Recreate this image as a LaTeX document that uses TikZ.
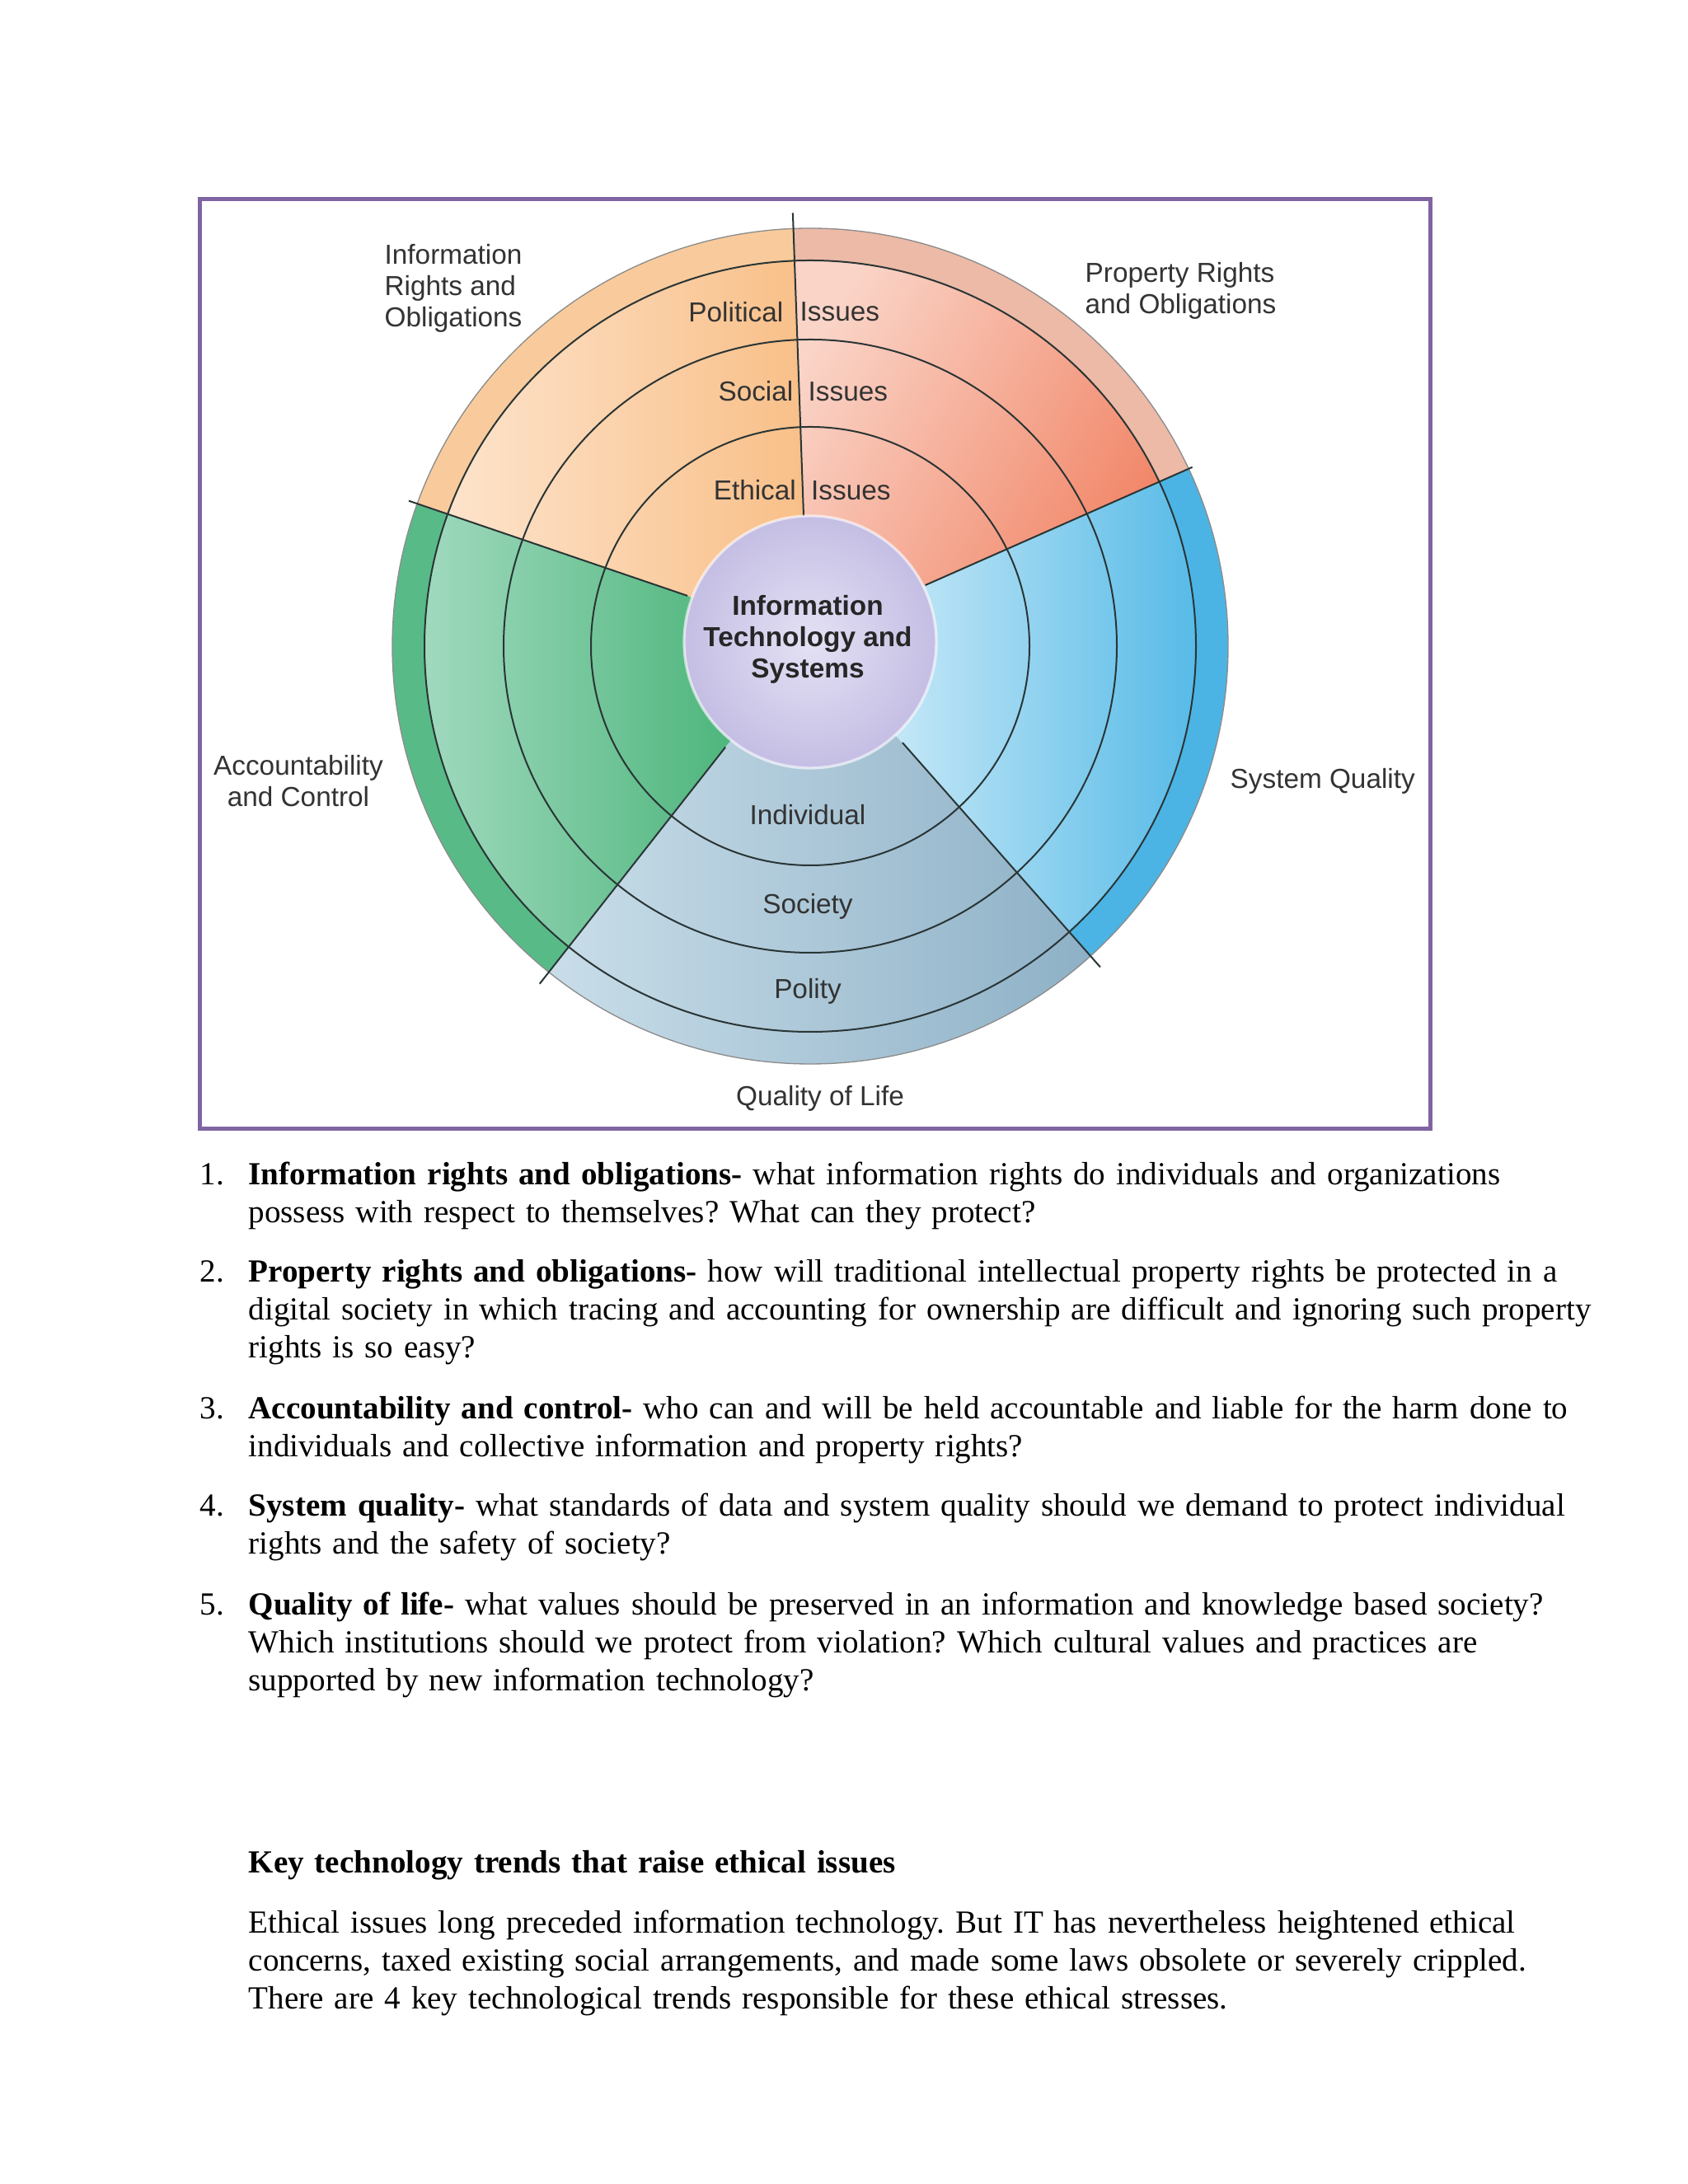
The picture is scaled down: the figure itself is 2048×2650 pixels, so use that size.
\documentclass[tikz,border=0pt]{standalone}
\usepackage{fontspec}
\setmainfont{Liberation Serif}
\newfontfamily\diagfont{Liberation Sans}
\usetikzlibrary{positioning}
\frenchspacing

\definecolor{framepurple}{HTML}{8064A2}
\definecolor{ringcol}{HTML}{2A3535}
\definecolor{labelgray}{HTML}{333333}
\definecolor{orangelt}{HTML}{FEE7D2}
\definecolor{orangedk}{HTML}{F8BD84}
\definecolor{orangeband}{HTML}{F9CB9C}
\definecolor{redlt}{HTML}{FAD4C7}
\definecolor{reddk}{HTML}{F07C5C}
\definecolor{redband}{HTML}{ECBAA7}
\definecolor{greenlt}{HTML}{A9DDC5}
\definecolor{greendk}{HTML}{46B276}
\definecolor{greenband}{HTML}{58BB87}
\definecolor{bluelt}{HTML}{D0ECF8}
\definecolor{bluedk}{HTML}{4CB6E6}
\definecolor{blueband}{HTML}{4BB4E4}
\definecolor{greylt}{HTML}{CBDFEA}
\definecolor{greydk}{HTML}{8DB0C6}
\definecolor{hubin}{HTML}{E4E1F4}
\definecolor{hubout}{HTML}{C5BEE4}

\tikzset{
  ringline/.style={draw=ringcol, line width=0.6pt},
  rimline/.style={draw=black!45, line width=0.4pt},
  lbl/.style={font=\diagfont\fontsize{10}{11.4}\selectfont, text=labelgray, inner sep=0pt},
  num/.style={font=\fontsize{11.72}{13.7}\selectfont, anchor=base west, inner sep=0pt},
  item/.style={font=\fontsize{11.72}{13.7}\selectfont, anchor=base west, inner sep=0pt,
    text width=17.6cm, align=left}
}

\begin{document}
\begin{tikzpicture}[x=0.010542cm, y=0.010542cm]
    % Page
    \fill[white] (0,0) rectangle (2048,2650);
    \useasboundingbox (0,0) rectangle (2048,2650);

    % Frame
    \draw[framepurple, line width=1.5pt] (242,1280) rectangle (1735,2408);

    \begin{scope}[shift={(983,1866)}]
        % Property rights
        \begin{scope}
            \clip (0,0) circle[radius=507];
            \clip (0,0) -- (27.9:158) -- (25.1:512) -- (25.1:900) -- (58.7:900) -- (92.3:900) -- (92.3:526) -- (92.9:157) -- cycle;
            \shade[left color=redlt, right color=reddk, shading angle=60] (-20,0) rectangle (480,507);
            \fill[redband, even odd rule] (0,0) circle[radius=507] (0,0) circle[radius=468];
        \end{scope}
        % Information rights
        \begin{scope}
            \clip (0,0) circle[radius=507];
            \clip (0,0) -- (92.9:157) -- (92.3:526) -- (92.3:900) -- (126.2:900) -- (160.1:900) -- (160.1:518) -- (157.7:161) -- cycle;
            \shade[left color=orangelt, right color=orangedk] (-480,0) rectangle (20,507);
            \fill[orangeband, even odd rule] (0,0) circle[radius=507] (0,0) circle[radius=468];
        \end{scope}
        % Accountability
        \begin{scope}
            \clip (0,0) circle[radius=507];
            \clip (0,0) -- (157.7:161) -- (160.1:518) -- (160.1:900) -- (195.7:900) -- (231.3:900) -- (231.3:525) -- (230:160) -- cycle;
            \shade[left color=greenlt, right color=greendk] (-507,-410) rectangle (-60,190);
            \fill[greenband, even odd rule] (0,0) circle[radius=507] (0,0) circle[radius=468];
        \end{scope}
        % Quality of life
        \begin{scope}
            \clip (0,0) circle[radius=507];
            \clip (0,0) -- (230:160) -- (231.3:525) -- (231.3:900) -- (271.7:900) -- (312.1:900) -- (312.1:525) -- (313.7:162) -- cycle;
            \shade[left color=greylt, right color=greydk] (-340,-507) rectangle (350,-60);
        \end{scope}
        % System quality
        \begin{scope}
            \clip (0,0) circle[radius=507];
            \clip (0,0) -- (313.7:162) -- (312.1:525) -- (312.1:900) -- (348.6:900) -- (385.1:900) -- (385.1:512) -- (387.9:158) -- cycle;
            \shade[left color=bluelt, right color=bluedk] (60,-390) rectangle (507,240);
            \fill[blueband, even odd rule] (0,0) circle[radius=507] (0,0) circle[radius=468];
        \end{scope}

        % Rings
        \foreach \r in {266,372,468}
            \draw[ringline] (0,0) circle[radius=\r];
        \draw[rimline] (0,0) circle[radius=507];

        % Dividers
        \draw[ringline] (92.9:157) -- (92.3:526);
        \draw[ringline] (157.7:161) -- (160.1:518);
        \draw[ringline] (230:160) -- (231.3:525);
        \draw[ringline] (313.7:162) -- (312.1:525);
        \draw[ringline] (27.9:158) -- (25.1:512);

        % Hub
        \shade[inner color=hubin, outer color=hubout] (0,5) circle[radius=153];
        \draw[white, opacity=0.6, line width=1pt] (0,5) circle[radius=153];
    \end{scope}

    % Outer labels
    \node[lbl, anchor=west, align=left] (inforights) at (466,2300) {Information\\Rights and\\Obligations};
    \node[lbl, anchor=west, align=left] (proprights) at (1316,2297) {Property Rights\\and Obligations};
    \node[lbl, align=center] (account) at (362,1702.5) {Accountability\\and Control};
    \node[lbl, anchor=west] (sysquality) at (1492,1702) {System Quality};
    \node[lbl] (qualitylife) at (995,1317) {Quality of Life};

    % Issue levels
    \node[lbl, anchor=east] (political) at (951,2271.5) {Political};
    \node[lbl, anchor=west] (polissues) at (970,2271.5) {Issues};
    \node[lbl, anchor=east] (social) at (963,2175) {Social};
    \node[lbl, anchor=west] (socissues) at (980,2175) {Issues};
    \node[lbl, anchor=east] (ethical) at (966.5,2055) {Ethical};
    \node[lbl, anchor=west] (ethissues) at (983.5,2055) {Issues};

    % Hub and levels
    \node[lbl, align=center, font=\diagfont\bfseries\fontsize{10}{11.4}\selectfont, text=black!85] (hub) at (980,1874) {Information\\Technology and\\Systems};
    \node[lbl] (individual) at (980,1661.5) {Individual};
    \node[lbl] (society) at (980,1550) {Society};
    \node[lbl] (polity) at (980,1447) {Polity};

    % Dimensions list
    \node[num] (n1) at (242,1212) {1.};
    \node[item] (d1) at (301,1212) {\textbf{Information rights and obligations-} what information rights do individuals and organizations\\possess with respect to themselves? What can they protect?};
    \node[num] (n2) at (242,1094) {2.};
    \node[item] (d2) at (301,1094) {\textbf{Property rights and obligations-} how will traditional intellectual property rights be protected in a\\digital society in which tracing and accounting for ownership are difficult and ignoring such property\\rights is so easy?};
    \node[num] (n3) at (242,928) {3.};
    \node[item] (d3) at (301,928) {\textbf{Accountability and control-} who can and will be held accountable and liable for the harm done to\\individuals and collective information and property rights?};
    \node[num] (n4) at (242,810) {4.};
    \node[item] (d4) at (301,810) {\textbf{System quality-} what standards of data and system quality should we demand to protect individual\\rights and the safety of society?};
    \node[num] (n5) at (242,690) {5.};
    \node[item] (d5) at (301,690) {\textbf{Quality of life-} what values should be preserved in an information and knowledge based society?\\Which institutions should we protect from violation? Which cultural values and practices are\\supported by new information technology?};

    % Trends
    \node[item] (trendhead) at (301,377) {\textbf{Key technology trends that raise ethical issues}};
    \node[item] (trendtext) at (301,304) {Ethical issues long preceded information technology. But IT has nevertheless heightened ethical\\concerns, taxed existing social arrangements, and made some laws obsolete or severely crippled.\\There are 4 key technological trends responsible for these ethical stresses.};
\end{tikzpicture}
\end{document}
